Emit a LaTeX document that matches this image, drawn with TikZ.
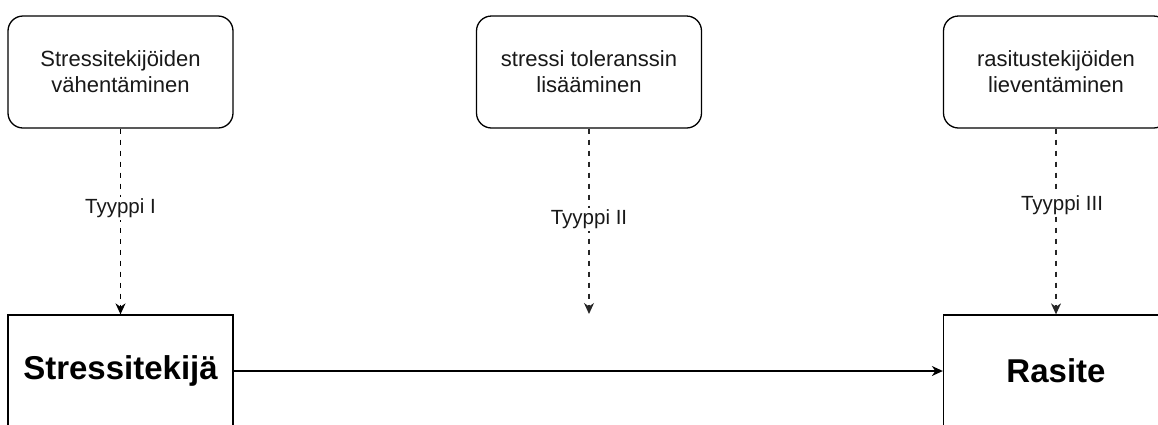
\documentclass[tikz,border=0pt]{standalone}
\usepackage{fontspec}
\setmainfont{Liberation Sans}
\usetikzlibrary{arrows.meta}
\begin{document}
\begin{tikzpicture}[x=1pt,y=-1pt,
  line width=1.3pt,
  softbox/.style={draw, rounded corners=15pt, minimum width=225pt, minimum height=112pt,
    align=center, font=\fontsize{22}{26}\selectfont, text=black!90, inner sep=0pt},
  mainbox/.style={draw, minimum width=225pt, minimum height=112pt, inner sep=0pt,
    font=\fontsize{33}{38}\selectfont\bfseries},
  typelink/.style={dash pattern=on 5pt off 6pt, -{Stealth[length=11pt,width=10pt,inset=3.5pt]}},
  typelabel/.style={fill=white, inner sep=2pt, font=\fontsize{20.5}{24}\selectfont, text=black!90},
  flow/.style={-{Stealth[length=11pt,width=10pt,inset=3.5pt]}}]
\clip (0,0) rectangle (1158,424);
\fill[white] (0,0) rectangle (1158,424);

% measures taken at the top
\node[softbox] (t1) at (120.5,72) {Stressitekijöiden\\vähentäminen};
\node[softbox] (t2) at (589,72) {stressi toleranssin\\lisääminen};
\node[softbox] (t3) at (1056,72) {rasitustekijöiden\\lieventäminen};

% stressor and strain
\node[mainbox] (s) at (120.5,371) {Stressitekijä};
\node[mainbox] (r) at (1056,371) {Rasite};
\coordinate (mid) at (589,314);

\draw[flow] (s) -- (r);

\draw[typelink] (t1) -- node[typelabel, pos=0.43] {Tyyppi I} (s);
\draw[typelink, black!85] (t2) -- node[typelabel, pos=0.49] {Tyyppi II} (mid);
\draw[typelink, black!85] (t3) -- node[typelabel, pos=0.41, xshift=6pt] {Tyyppi III} (r);
\end{tikzpicture}
\end{document}
